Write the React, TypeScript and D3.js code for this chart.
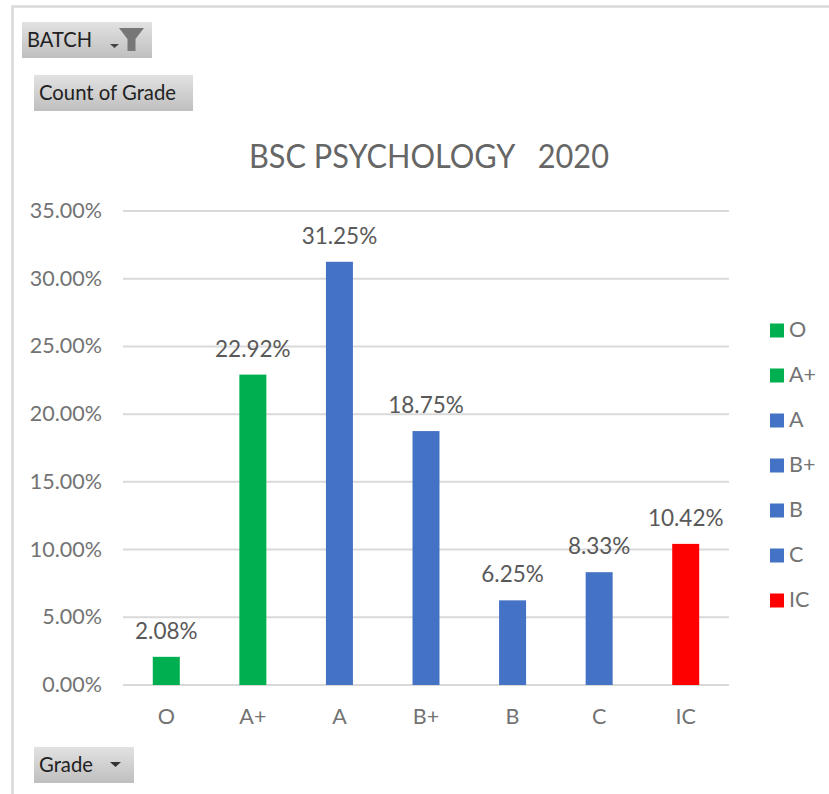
import React, { useEffect } from "react";
import * as d3 from "d3";

const grades = ["O", "A+", "A", "B+", "B", "C", "IC"];
const percents = [2.08, 22.92, 31.25, 18.75, 6.25, 8.33, 10.42];
const barColors = ["#00b050", "#00b050", "#4472c4", "#4472c4", "#4472c4", "#4472c4", "#ff0000"];
const yTicks = [0, 5, 10, 15, 20, 25, 30, 35];

const textFont = "Lato, 'Open Sans', sans-serif";

function Button({ x, y, w, h, label, id, tw }: { x: number; y: number; w: number; h: number; label: string; id: string; tw: number }) {
  return (
    <g>
      <rect x={x} y={y} width={w} height={h} fill={`url(#${id})`} />
      <text x={x + 5} y={y + h / 2 + 7} fontFamily={textFont} fontSize={22} fill="#222" textLength={tw} lengthAdjust="spacingAndGlyphs">
        {label}
      </text>
    </g>
  );
}

export default function App() {
  useEffect(() => {
    document.body.style.margin = "0";
  }, []);
  const y = d3.scaleLinear().domain([0, 35]).range([685, 211]);
  const x = d3.scaleBand<string>().domain(grades).range([123, 729]);
  const legendY = d3.scalePoint<string>().domain(grades).range([330, 600]);
  const grad = (id: string) => (
    <linearGradient id={id} x1="0" y1="0" x2="0" y2="1">
      <stop offset="0" stopColor="#e2e2e2" />
      <stop offset="1" stopColor="#bfbfbf" />
    </linearGradient>
  );
  return (
    <svg width={829} height={794} style={{ display: "block", position: "absolute", left: 0, top: 0 }}>
      <defs>
        {grad("g1")}
        {grad("g2")}
        {grad("g3")}
      </defs>
      <rect width={829} height={794} fill="#fff" />
      <path d="M12.5,794 V6.5 H829" fill="none" stroke="#d9d9d9" strokeWidth={2.5} />
      <Button x={22} y={22} w={130} h={36} label="BATCH" id="g1" tw={65} />
      <path d="M110,44 h9 l-4.5,4 z" fill="#444" />
      <path d="M119,28 h25 l-8.5,11 v12 h-8 v-12 z" fill="#777" />
      <Button x={34} y={75} w={159} h={36} label="Count of Grade" id="g2" tw={137} />
      <Button x={34} y={747} w={100} h={36} label="Grade" id="g3" tw={54} />
      <path d="M110,762 h11 l-5.5,5 z" fill="#333" />

      <text x={429} y={168} textAnchor="middle" fontFamily={textFont} fontSize={33} fill="#666" textLength={360} lengthAdjust="spacingAndGlyphs">
        BSC PSYCHOLOGY{"\u00A0\u00A0"} 2020
      </text>

      {yTicks.map((t) => (
        <g key={t}>
          <line x1={123} x2={729} y1={y(t)} y2={y(t)} stroke="#d9d9d9" strokeWidth={2} />
          <text x={102} y={y(t) + 7} textAnchor="end" fontFamily={textFont} fontSize={21.5} fill="#737373">
            {t.toFixed(2)}%
          </text>
        </g>
      ))}

      {grades.map((g, i) => {
        const cx = x(g)! + x.bandwidth() / 2;
        return (
          <g key={g}>
            <rect x={cx - 13.5} y={y(percents[i])} width={27} height={685 - y(percents[i])} fill={barColors[i]} />
            <text x={cx} y={y(percents[i]) - 18} textAnchor="middle" fontFamily={textFont} fontSize={22.5} fill="#595959">
              {percents[i].toFixed(2)}%
            </text>
            <text x={cx} y={724} textAnchor="middle" fontFamily={textFont} fontSize={21.5} fill="#737373">
              {g}
            </text>
            <rect x={770} y={legendY(g)! - 6.5} width={14} height={14} fill={barColors[i]} />
            <text x={789} y={legendY(g)! + 7} fontFamily={textFont} fontSize={21.5} fill="#737373">
              {g}
            </text>
          </g>
        );
      })}
    </svg>
  );
}
